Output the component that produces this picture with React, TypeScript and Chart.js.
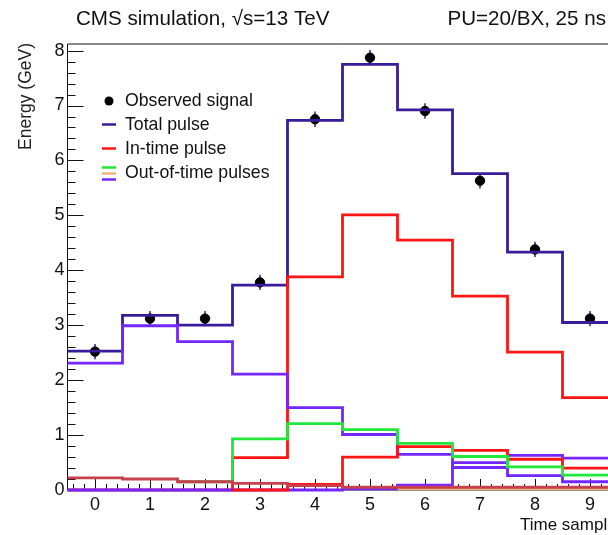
import React, { useEffect, useRef } from "react";
import { Chart, registerables } from "chart.js";

Chart.register(...registerables);

const bins = [0, 1, 2, 3, 4, 5, 6, 7, 8, 9];
const observed = [2.52, 3.12, 3.12, 3.78, 6.75, 7.87, 6.9, 5.63, 4.38, 3.12];
const observedErr = [0.14, 0.14, 0.14, 0.14, 0.14, 0.14, 0.14, 0.14, 0.14, 0.14];
const totalPulse = [2.53, 3.18, 3.0, 3.73, 6.73, 7.75, 6.92, 5.76, 4.33, 3.05];
const inTimePulse = [0, 0, 0, 0.59, 3.88, 5.01, 4.55, 3.53, 2.51, 1.68];
const ootGreen = [null, null, 0.15, 0.93, 1.21, 1.1, 0.85, 0.61, 0.42, 0.27];
const ootVioletEarly = [2.31, 2.99, 2.7, 2.11, 1.5, 1.01, 0.65, 0.41, 0.26, 0.15];
const ootVioletLate = [0, 0, 0, 0, 0, 0.02, 0.09, 0.5, 0.63, 0.58];
const ootRedLate = [null, null, null, 0, 0.1, 0.6, 0.79, 0.72, 0.56, 0.4];
const ootMaroon = [0.22, 0.2, 0.15, 0.12, 0.08, 0.05, null, null, null, null];
const ootTan = [null, null, null, null, null, null, 0.02, 0.02, 0.02, 0.02];
const xTickValues = [0, 1, 2, 3, 4, 5, 6, 7, 8, 9];
const yTickValues = [0, 1, 2, 3, 4, 5, 6, 7, 8];

const X_MIN = -0.5;
const X_MAX = 9.5;
const Y_MIN = 0;
const Y_MAX = 8.12;

const FONT = "'Liberation Sans', Arial, Helvetica, sans-serif";
const C_TOTAL = "#3a1c9a";
const C_VIOLET = "#7426ff";
const C_RED = "#ff1414";
const C_GREEN = "#22e63c";
const C_TAN = "#e9b47c";
const C_MAROON = "#c8404e";

function stepData(values: (number | null)[]) {
  const pts: { x: number; y: number }[] = [];
  let last: number | null = null;
  values.forEach((v, i) => {
    if (v === null) return;
    pts.push({ x: bins[i] - 0.5, y: v });
    last = v;
  });
  if (last !== null) pts.push({ x: bins[bins.length - 1] + 0.5, y: last });
  return pts;
}

function histDataset(label: string, values: (number | null)[], color: string, width = 2.8) {
  return {
    type: "line" as const,
    label,
    data: stepData(values),
    borderColor: color,
    backgroundColor: color,
    borderWidth: width,
    stepped: true,
    pointRadius: 0,
    fill: false,
    clip: 4,
  };
}

const decorPlugin = {
  id: "rootDecor",
  beforeDatasetsDraw(chart: any) {
    const { ctx, chartArea } = chart;
    const xs = chart.scales.x;
    const ys = chart.scales.y;
    ctx.save();
    ctx.strokeStyle = "#111";
    ctx.lineWidth = 1;
    ctx.beginPath();
    ctx.moveTo(chartArea.left, chartArea.top);
    ctx.lineTo(chartArea.right, chartArea.top);
    ctx.lineTo(chartArea.right, chartArea.bottom);
    ctx.lineTo(chartArea.left, chartArea.bottom);
    ctx.closePath();
    ctx.stroke();
    ctx.beginPath();
    for (let k = 0; k <= 40; k++) {
      const v = k * 0.2;
      if (v > Y_MAX) break;
      const y = Math.round(ys.getPixelForValue(v)) + 0.5;
      const len = k % 5 === 0 ? 16 : 8;
      ctx.moveTo(chartArea.left, y);
      ctx.lineTo(chartArea.left + len, y);
    }
    for (let k = -2; k <= 47; k++) {
      const v = k * 0.2;
      if (v < X_MIN || v > X_MAX) continue;
      const x = Math.round(xs.getPixelForValue(v)) + 0.5;
      const len = k % 5 === 0 ? 11 : 6;
      ctx.moveTo(x, chartArea.bottom);
      ctx.lineTo(x, chartArea.bottom - len);
    }
    ctx.stroke();
    ctx.restore();
  },
  beforeDatasetDraw(chart: any, args: any) {
    if (args.index !== chart.data.datasets.length - 1) return;
    const { ctx } = chart;
    const xs = chart.scales.x;
    const ys = chart.scales.y;
    ctx.save();
    ctx.strokeStyle = C_TOTAL;
    ctx.lineWidth = 1.5;
    ctx.beginPath();
    observed.forEach((v, i) => {
      const x = xs.getPixelForValue(bins[i]);
      ctx.moveTo(x, ys.getPixelForValue(v - observedErr[i]));
      ctx.lineTo(x, ys.getPixelForValue(v + observedErr[i]));
    });
    ctx.stroke();
    ctx.restore();
  },
  afterDraw(chart: any) {
    const { ctx, chartArea } = chart;
    ctx.save();
    ctx.fillStyle = "#111";
    ctx.textBaseline = "middle";
    ctx.font = `20.6px ${FONT}`;
    ctx.textAlign = "left";
    ctx.fillText("CMS simulation, \u221As=13 TeV", 76, 19);
    ctx.textAlign = "right";
    ctx.fillText("PU=20/BX, 25 ns", 606, 19);

    ctx.save();
    ctx.translate(26, 43);
    ctx.rotate(-Math.PI / 2);
    ctx.font = `17.5px ${FONT}`;
    ctx.textAlign = "right";
    ctx.fillStyle = "#222";
    ctx.fillText("Energy (GeV)", 0, 0);
    ctx.restore();

    ctx.font = `17px ${FONT}`;
    ctx.textAlign = "left";
    ctx.fillText("Time sample", 520, 525);

    ctx.font = `17.7px ${FONT}`;
    ctx.textAlign = "left";
    const tx = 125;
    ctx.fillStyle = "#000";
    ctx.beginPath();
    ctx.arc(109, 101, 4.5, 0, Math.PI * 2);
    ctx.fill();
    ctx.fillStyle = "#111";
    ctx.fillText("Observed signal", tx, 101);
    const seg = (y: number, color: string) => {
      ctx.strokeStyle = color;
      ctx.lineWidth = 2.5;
      ctx.beginPath();
      ctx.moveTo(102, y);
      ctx.lineTo(116, y);
      ctx.stroke();
    };
    seg(124.5, C_TOTAL);
    ctx.fillText("Total pulse", tx, 125);
    seg(148.5, C_RED);
    ctx.fillText("In-time pulse", tx, 149);
    seg(167.5, C_GREEN);
    seg(173.5, C_TAN);
    seg(179.5, C_VIOLET);
    ctx.fillText("Out-of-time pulses", tx, 173);
    ctx.restore();
  },
};

export default function App() {
  const ref = useRef<HTMLCanvasElement | null>(null);
  useEffect(() => {
    document.body.style.margin = "0";
    const canvas = ref.current;
    if (!canvas) return;
    const chart = new Chart(canvas, {
      type: "line",
      data: {
        datasets: [
          histDataset("Out-of-time maroon", ootMaroon, C_MAROON),
          histDataset("Out-of-time tan", ootTan, C_TAN),
          histDataset("Out-of-time green", ootGreen, C_GREEN),
          histDataset("Out-of-time red", ootRedLate, C_RED),
          histDataset("Out-of-time violet late", ootVioletLate, C_VIOLET),
          histDataset("Out-of-time violet early", ootVioletEarly, C_VIOLET),
          histDataset("In-time pulse", inTimePulse, C_RED),
          histDataset("Total pulse", totalPulse, C_TOTAL),
          {
            type: "scatter" as const,
            label: "Observed signal",
            data: observed.map((v, i) => ({ x: bins[i], y: v })),
            backgroundColor: "#000",
            borderColor: "#000",
            pointRadius: 4.7,
            pointHoverRadius: 4.7,
            showLine: false,
          } as any,
        ] as any,
      },
      options: {
        responsive: false,
        animation: false,
        events: [],
        layout: { padding: { top: 44, right: 22.5, left: 0, bottom: 0 } },
        plugins: { legend: { display: false }, tooltip: { enabled: false }, title: { display: false } },
        scales: {
          x: {
            type: "linear",
            min: X_MIN,
            max: X_MAX,
            afterBuildTicks: (s: any) => {
              s.ticks = xTickValues.map((v) => ({ value: v }));
            },
            afterFit: (s: any) => {
              s.height = 45;
            },
            border: { display: false },
            grid: { display: false, drawTicks: false },
            ticks: {
              color: "#111",
              font: { family: FONT, size: 18 },
              padding: 4,
              maxRotation: 0,
              autoSkip: false,
            },
          },
          y: {
            type: "linear",
            min: Y_MIN,
            max: Y_MAX,
            afterBuildTicks: (s: any) => {
              s.ticks = yTickValues.map((v) => ({ value: v }));
            },
            afterFit: (s: any) => {
              s.width = 67.5;
            },
            border: { display: false },
            grid: { display: false, drawTicks: false },
            ticks: {
              color: "#111",
              font: { family: FONT, size: 18 },
              padding: 3,
            },
          },
        },
      },
      plugins: [decorPlugin],
    } as any);
    return () => chart.destroy();
  }, []);
  return (
    <div style={{ width: 608, height: 535, overflow: "hidden", background: "#fff" }}>
      <canvas ref={ref} width={640} height={535} style={{ display: "block", width: 640, height: 535 }} />
    </div>
  );
}
